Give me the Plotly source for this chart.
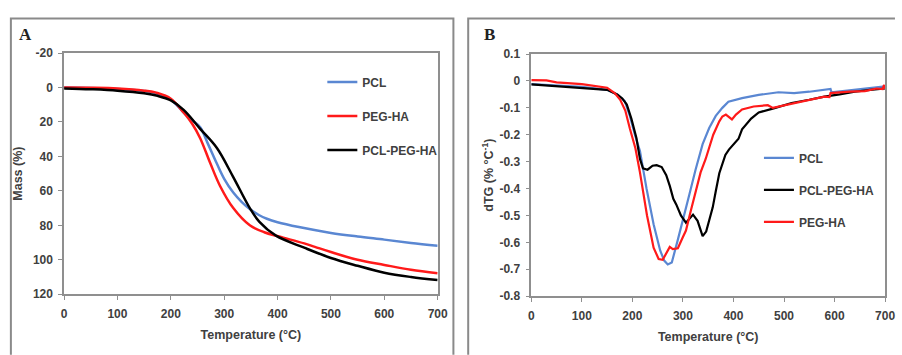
import plotly.graph_objects as go

# ---- Panel A: TGA mass loss (%) ----
tga_temp_pcl = [0, 50, 100, 150, 175, 200, 224, 240, 255, 270, 286, 300, 317, 333, 348, 365, 380, 400, 440, 500, 550, 600, 650, 700]
tga_pcl = [0, 0.3, 0.8, 2, 3.5, 7, 14.5, 19, 23, 33, 44, 53, 61, 66.5, 70.5, 74, 76.2, 78.2, 81, 84.4, 86.5, 88.3, 90.2, 91.8]

tga_temp_peg = [0, 50, 100, 150, 175, 200, 224, 240, 255, 274, 292, 317, 348, 375, 403, 450, 470, 500, 550, 600, 650, 700]
tga_peg = [0, 0.1, 0.5, 1.8, 3.2, 6.5, 14.5, 21, 29.4, 44, 57, 70, 80, 84, 86.5, 90.5, 92.5, 95.5, 100, 103, 105.8, 107.8]

tga_temp_blend = [0, 50, 100, 150, 175, 200, 224, 255, 286, 317, 348, 366, 397, 450, 500, 550, 600, 650, 700]
tga_blend = [0.5, 1, 1.8, 3.3, 4.8, 7.5, 13, 24, 35, 52, 70, 78, 86, 93, 99, 103.5, 107.5, 110, 111.8]

mass_ticks = [-20, 0, 20, 40, 60, 80, 100, 120]
mass_tick_labels = ["-20", "0", "20", "40", "60", "80", "100", "120"]

# ---- Panel B: derivative TG (% per °C) ----
dtg_temp_pcl = [0, 50, 100, 150, 170, 185, 195, 205, 215, 228, 242, 255, 263, 270, 278, 290, 300, 313, 325, 339, 352, 365,
                378, 390, 417, 450, 489, 520, 550, 592, 594, 620, 645, 670, 700]
dtg_pcl = [-0.012, -0.018, -0.022, -0.033, -0.05, -0.075, -0.13, -0.2, -0.26, -0.4, -0.533, -0.63, -0.668, -0.682, -0.675,
           -0.59, -0.52, -0.42, -0.33, -0.235, -0.175, -0.13, -0.1, -0.077, -0.064, -0.052, -0.042, -0.045, -0.04, -0.03,
           -0.042, -0.037, -0.03, -0.025, -0.02]

dtg_temp_peg = [0, 30, 50, 100, 150, 165, 176, 186, 195, 206, 215, 229, 242, 252, 260, 268, 274, 280, 290, 300, 306, 316,
                326, 335, 345, 360, 372, 378, 385, 397, 405, 417, 440, 468, 478, 506, 540, 580, 590, 592, 630, 660, 683,
                695, 698, 700]
dtg_peg = [0.003, 0.002, -0.005, -0.012, -0.025, -0.045, -0.07, -0.11, -0.177, -0.25, -0.34, -0.5, -0.62, -0.662, -0.665,
           -0.64, -0.617, -0.625, -0.622, -0.58, -0.556, -0.48, -0.4, -0.34, -0.29, -0.2, -0.15, -0.132, -0.125, -0.143,
           -0.125, -0.106, -0.095, -0.09, -0.1, -0.088, -0.075, -0.058, -0.06, -0.045, -0.04, -0.038, -0.028, -0.03,
           -0.015, -0.03]

dtg_temp_blend = [0, 50, 100, 150, 170, 180, 189, 198, 208, 215, 221, 230, 240, 248, 258, 267, 274, 281, 287, 296, 306,
                  313, 320, 329, 339, 346, 352, 359, 365, 372, 384, 391, 410, 417, 435, 450, 483, 506, 515, 550, 580, 610,
                  640, 670, 700]
dtg_blend = [-0.013, -0.02, -0.025, -0.033, -0.05, -0.065, -0.088, -0.14, -0.212, -0.29, -0.325, -0.33, -0.315, -0.313,
             -0.32, -0.35, -0.39, -0.438, -0.46, -0.5, -0.527, -0.51, -0.497, -0.52, -0.577, -0.56, -0.52, -0.47, -0.41,
             -0.343, -0.275, -0.255, -0.215, -0.18, -0.14, -0.117, -0.1, -0.088, -0.082, -0.07, -0.058, -0.05, -0.04,
             -0.033, -0.028]

dtg_ticks = [0.1, 0, -0.1, -0.2, -0.3, -0.4, -0.5, -0.6, -0.7, -0.8]
dtg_tick_labels = ["0.1", "0", "-0.1", "-0.2", "-0.3", "-0.4", "-0.5", "-0.6", "-0.7", "-0.8"]

BLUE = "#5a87d2"
RED = "#ff1a1a"
BLACK = "#000000"
AXIS_GREY = "#8f8f8f"
TEXT = "#404040"
FONT = "Liberation Sans, Arial, sans-serif"

fig = go.Figure()

# Panel A traces
fig.add_trace(go.Scatter(x=tga_temp_pcl, y=tga_pcl, name="PCL", mode="lines", line=dict(color=BLUE, width=2.5, shape="spline"),
                         xaxis="x", yaxis="y", legend="legend", legendgroup="a1"))
fig.add_trace(go.Scatter(x=tga_temp_peg, y=tga_peg, name="PEG-HA", mode="lines", line=dict(color=RED, width=2.5, shape="spline"),
                         xaxis="x", yaxis="y", legend="legend", legendgroup="a2"))
fig.add_trace(go.Scatter(x=tga_temp_blend, y=tga_blend, name="PCL-PEG-HA", mode="lines", line=dict(color=BLACK, width=2.5, shape="spline"),
                         xaxis="x", yaxis="y", legend="legend", legendgroup="a3"))

# Panel B traces
fig.add_trace(go.Scatter(x=dtg_temp_pcl, y=dtg_pcl, name="PCL", mode="lines", line=dict(color=BLUE, width=2.2),
                         xaxis="x2", yaxis="y2", legend="legend2", legendgroup="b1"))
fig.add_trace(go.Scatter(x=dtg_temp_blend, y=dtg_blend, name="PCL-PEG-HA", mode="lines", line=dict(color=BLACK, width=2.2),
                         xaxis="x2", yaxis="y2", legend="legend2", legendgroup="b2"))
fig.add_trace(go.Scatter(x=dtg_temp_peg, y=dtg_peg, name="PEG-HA", mode="lines", line=dict(color=RED, width=2.2),
                         xaxis="x2", yaxis="y2", legend="legend2", legendgroup="b3"))

W, H = 902, 355


def px_x(p):
    return p / W


def px_y(p):
    return 1 - p / H


tick_font = dict(family=FONT, size=12, color=TEXT, weight="bold")
title_font = dict(family=FONT, size=12.5, color=TEXT, weight="bold")
legend_font = dict(family=FONT, size=12, color=TEXT, weight="bold")

axis_common = dict(showline=True, linecolor=AXIS_GREY, linewidth=1.5, mirror=True, showgrid=False, zeroline=False,
                   ticks="outside", ticklen=4, tickcolor=AXIS_GREY, tickwidth=1, tickfont=tick_font)

fig.update_layout(
    width=W, height=H, margin=dict(l=0, r=0, t=0, b=0),
    paper_bgcolor="white", plot_bgcolor="white",
    xaxis=dict(domain=[px_x(62), px_x(441)], range=[0, 700], dtick=100, anchor="y", ticklabelstandoff=4,
               title=dict(text="Temperature (°C)", font=title_font, standoff=10), **axis_common),
    yaxis=dict(domain=[px_y(299), px_y(48)], range=[120, -20], tickvals=mass_ticks, ticktext=mass_tick_labels,
               anchor="x", ticklabelstandoff=3,
               title=dict(text="Mass (%)", font=title_font, standoff=8), **axis_common),
    xaxis2=dict(domain=[px_x(536), px_x(895)], range=[0, 700], dtick=100, anchor="y2", ticklabelstandoff=4,
                title=dict(text="Temperature (°C)", font=title_font, standoff=10), **axis_common),
    yaxis2=dict(domain=[px_y(301), px_y(49)], range=[-0.8, 0.1], tickvals=dtg_ticks, ticktext=dtg_tick_labels,
                anchor="x2", ticklabelstandoff=3,
                title=dict(text="dTG (% °C<sup>-1</sup>)", font=title_font, standoff=3), **axis_common),
    legend=dict(x=px_x(324), y=px_y(63), xanchor="left", yanchor="top", bgcolor="rgba(0,0,0,0)",
                font=legend_font, tracegroupgap=15, itemwidth=30, traceorder="grouped"),
    legend2=dict(x=px_x(767), y=px_y(142), xanchor="left", yanchor="top", bgcolor="rgba(0,0,0,0)",
                 font=legend_font, tracegroupgap=13, itemwidth=30, traceorder="grouped"),
    annotations=[
        dict(text="<b>A</b>", x=px_x(14), y=px_y(29), xref="paper", yref="paper", xanchor="left", yanchor="middle",
             showarrow=False, font=dict(family="Liberation Serif, Times New Roman, serif", size=17, color="#222")),
        dict(text="<b>B</b>", x=px_x(486), y=px_y(29), xref="paper", yref="paper", xanchor="left", yanchor="middle",
             showarrow=False, font=dict(family="Liberation Serif, Times New Roman, serif", size=17, color="#222")),
    ],
    shapes=[
        # outer frames of the two panels (run past the lower edge)
        dict(type="path", xref="paper", yref="paper",
             path=f"M {px_x(8)} {px_y(362)} L {px_x(8)} {px_y(12)} L {px_x(457)} {px_y(12)} L {px_x(457)} {px_y(362)}",
             line=dict(color="#8a8a8a", width=2)),
        dict(type="path", xref="paper", yref="paper",
             path=f"M {px_x(472)} {px_y(362)} L {px_x(472)} {px_y(12)} L {px_x(905)} {px_y(12)}",
             line=dict(color="#8a8a8a", width=2)),
    ],
)

fig.write_html("out.html")
